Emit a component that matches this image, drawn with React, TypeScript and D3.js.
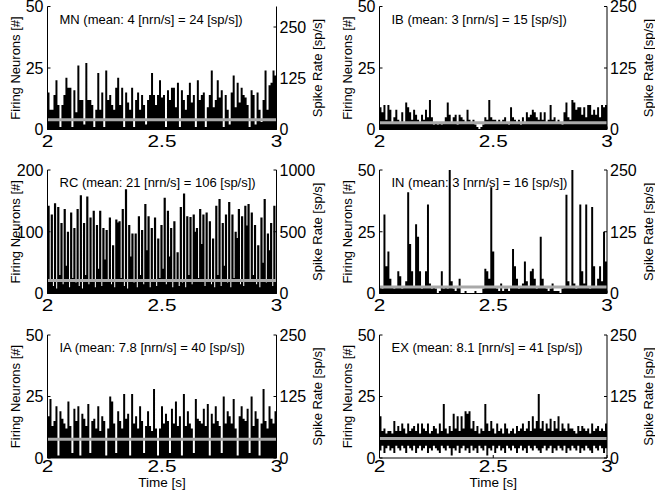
import React from 'react';
import * as d3 from 'd3';

const W = 655;
const H = 496;

// firing neuron counts per time column (2 s .. 3 s)
const mnCounts = [
  15, 8, 8, 14, 20, 10, 1, 10, 14, 21, 17, 17, 1, 16, 7, 26, 12, 12, 2, 27,
  12, 12, 10, 1, 8, 23, 8, 15, 1, 24, 12, 14, 10, 8, 17, 21, 10, 17, 1, 15,
  11, 8, 17, 1, 12, 15, 8, 14, 10, 2, 12, 14, 23, 14, 10, 14, 20, 13, 14, 1,
  16, 12, 17, 17, 9, 19, 1, 16, 12, 8, 14, 19, 11, 14, 1, 20, 12, 14, 15, 1,
  9, 14, 24, 9, 12, 20, 13, 16, 1, 14, 8, 2, 15, 22, 9, 19, 11, 17, 14, 13,
  10, 1, 16, 14, 2, 15, 8, 3, 12, 24, 8, 18, 19, 24, 22,
];

const ibCounts = [
  9, 7, 10, 4, 10, 8, 3, 5, 8, 4, 3, 7, 3, 11, 9, 7, 4, 8, 6, 4,
  3, 6, 4, 8, 5, 12, 5, 2, 3, 2, 3, 2, 3, 5, 11, 6, 3, 5, 6, 2,
  6, 5, 4, 3, 8, 4, 3, 4, 2, 1, 0, 1, 2, 5, 4, 12, 5, 4, 4, 3,
  4, 3, 4, 5, 3, 2, 9, 5, 4, 3, 4, 2, 5, 3, 7, 5, 6, 8, 7, 5,
  4, 7, 4, 7, 3, 4, 10, 4, 5, 3, 4, 3, 2, 7, 11, 5, 4, 12, 11, 8,
  9, 9, 6, 9, 5, 10, 10, 6, 8, 6, 9, 5, 10, 9, 10,
];

const rcPeaks = [
  142, 128, 146, 140, 114, 137, 100, 131, 106, 137, 159, 114, 157, 123, 134, 111, 134, 106, 103, 123,
  78, 120, 117, 137, 169, 111, 97, 97, 125, 103, 145, 125, 106, 123, 89, 111, 155, 134, 106, 117,
  67, 140, 162, 125, 124, 128, 106, 137, 128, 131, 117, 89, 142, 153, 114, 128, 148, 128, 100, 137,
  125, 142, 145, 131, 111, 78, 123, 153, 97, 114, 142,
];
const rcTroughs = [
  20, 12, 8, 30, 15, 45, 10, 25, 18, 12, 8, 30, 15, 22, 10, 40, 12, 55, 20, 15,
  10, 115, 25, 12, 8, 60, 18, 10, 30, 15, 70, 10, 20, 12, 25, 40, 15, 60, 10, 22,
  12, 18, 10, 30, 15, 100, 25, 80, 12, 20, 15, 10, 30, 12, 45, 18, 10, 25, 90, 15,
  12, 110, 20, 30, 15, 10, 50, 18, 70, 12, 20,
];

const inCounts = [
  3, 2, 32, 11, 17, 6, 3, 2, 3, 9, 7, 2, 3, 5, 41, 20, 9, 3, 28, 23,
  9, 2, 3, 9, 36, 4, 2, 3, 2, 0, 1, 9, 2, 3, 2, 52, 5, 2, 1, 3,
  6, 0, 0, 1, 0, 0, 0, 0, 1, 0, 0, 0, 2, 10, 9, 6, 43, 17, 3, 2,
  1, 4, 1, 2, 2, 1, 3, 18, 11, 6, 2, 3, 4, 13, 5, 3, 9, 10, 6, 2,
  3, 23, 6, 3, 2, 1, 2, 4, 1, 1, 1, 0, 2, 3, 40, 5, 3, 52, 4, 2,
  3, 36, 9, 4, 36, 3, 2, 35, 11, 3, 6, 11, 5, 25, 13,
];

const iaCounts = [
  17, 24, 13, 15, 21, 1, 19, 16, 14, 12, 23, 13, 2, 20, 15, 21, 1, 18, 16, 13,
  22, 2, 15, 16, 12, 21, 11, 17, 15, 1, 12, 25, 23, 14, 2, 19, 15, 12, 26, 16,
  18, 1, 26, 14, 17, 12, 21, 15, 2, 13, 19, 13, 11, 28, 12, 1, 12, 21, 14, 18,
  15, 2, 20, 14, 23, 13, 17, 1, 26, 13, 19, 14, 12, 2, 24, 16, 15, 14, 20, 13,
  22, 1, 18, 14, 21, 15, 13, 2, 25, 14, 19, 17, 14, 24, 12, 1, 17, 21, 16, 15,
  20, 2, 25, 13, 19, 16, 1, 14, 28, 15, 12, 21, 16, 14, 19,
];

const exHigh = [
  17, 11, 12, 10, 11, 11, 10, 15, 11, 13, 11, 14, 12, 10, 14, 11, 12, 13, 11, 14,
  10, 14, 12, 11, 14, 10, 11, 13, 12, 10, 14, 11, 22, 12, 10, 13, 11, 18, 12, 17,
  11, 17, 12, 19, 18, 19, 12, 15, 11, 13, 10, 12, 11, 22, 14, 11, 15, 12, 10, 14,
  11, 12, 10, 14, 12, 10, 11, 12, 10, 13, 11, 12, 14, 11, 12, 15, 11, 17, 12, 15,
  26, 12, 15, 11, 14, 12, 16, 11, 15, 12, 17, 11, 14, 12, 11, 14, 12, 12, 11, 10,
  13, 11, 13, 12, 11, 12, 10, 14, 11, 12, 13, 11, 12, 11, 14,
];
const exLow = [
  3, 5, 2, 4, 5, 3, 4, 2, 5, 4, 3, 5, 4, 2, 5, 4, 3, 5, 2, 4,
  5, 3, 4, 5, 2, 4, 3, 5, 4, 3, 2, 5, 4, 3, 5, 4, 1, 4, 3, 5,
  2, 4, 5, 3, 4, 2, 5, 3, 4, 2, 5, 4, 3, 5, 1, 4, 3, 5, 2, 4,
  5, 3, 4, 2, 5, 4, 3, 5, 4, 2, 4, 5, 3, 4, 2, 5, 4, 3, 5, 4,
  3, 2, 4, 5, 3, 4, 5, 2, 4, 3, 5, 4, 3, 5, 2, 4, 3, 5, 4, 3,
  5, 2, 4, 3, 5, 4, 3, 2, 5, 4, 3, 5, 4, 2, 4,
];

const names = ['MN', 'IB', 'RC', 'IN', 'IA', 'EX'];
const meanNrn = ['4', '3', '21', '3', '7.8', '8.1'];
const meanSp = ['24', '15', '106', '16', '40', '41'];
const meanLine = [4, 2.7, 21, 2.6, 7.6, 7.9];
const countMax = [50, 50, 200, 50, 50, 50];
const rateMax = [300, 250, 1000, 250, 250, 250];
const countTicks = [[0, 25, 50], [0, 25, 50], [0, 100, 200], [0, 25, 50], [0, 25, 50], [0, 25, 50]];
const rateTicks = [[0, 125, 250], [0, 125, 250], [0, 500, 1000], [0, 125, 250], [0, 125, 250], [0, 125, 250]];
const timeTicks = [2, 2.5, 3];
const timeLabels = ['2', '2.5', '3'];

type Pt = { t: number; lo: number; hi: number };

function simple(counts: number[]): Pt[] {
  return counts.map((v, i) => ({ t: 2 + i / counts.length, lo: 0, hi: v }));
}

const series: Pt[][] = [
  simple(mnCounts),
  simple(ibCounts),
  rcPeaks.flatMap((p, k) => [
    { t: 2 + k / rcPeaks.length, lo: 0, hi: p },
    { t: 2 + (k + 0.68) / rcPeaks.length, lo: 0, hi: rcTroughs[k] },
  ]),
  simple(inCounts),
  simple(iaCounts),
  exHigh.map((v, i) => ({ t: 2 + i / exHigh.length, lo: exLow[i], hi: v })),
];

const cols = [
  { x0: 47.5, x1: 276.5 },
  { x0: 379.5, x1: 607 },
];
const rows = [
  { top: 6.5, bottom: 129.5, tickGap: 17.5 },
  { top: 170, bottom: 293.5, tickGap: 17.5 },
  { top: 335, bottom: 458, tickGap: 14 },
];

const FONT = "'Liberation Sans', Arial, Helvetica, sans-serif";

function Panel({ idx }: { idx: number }) {
  const { x0, x1 } = cols[idx % 2];
  const { top, bottom, tickGap } = rows[Math.floor(idx / 2)];
  const x = d3.scaleLinear().domain([2, 3]).range([x0, x1]);
  const y = d3.scaleLinear().domain([0, countMax[idx]]).range([bottom, top]).clamp(true);
  const yr = d3.scaleLinear().domain([0, rateMax[idx]]).range([bottom, top]);

  const pts = series[idx];
  const last = pts[pts.length - 1];
  const data = [...pts, { t: 3, lo: last.lo, hi: last.hi }];
  const area = d3
    .area<Pt>()
    .x((d) => x(d.t))
    .y0((d) => y(d.lo))
    .y1((d) => y(d.hi))
    .curve(d3.curveStepAfter);

  const isBottom = idx >= 4;
  const midY = (top + bottom) / 2;
  const title = `${names[idx]} (mean: ${meanNrn[idx]} [nrn/s] = ${meanSp[idx]} [sp/s])`;

  return (
    <g>
      <path d={area(data) || ''} fill="#000" />
      <line x1={x0} x2={x1} y1={y(meanLine[idx])} y2={y(meanLine[idx])} stroke="#a9a9a9" strokeWidth={3} />

      {/* axes */}
      <line x1={x0} x2={x0} y1={top} y2={bottom} stroke="#000" strokeWidth={1} />
      <line x1={x1} x2={x1} y1={top} y2={bottom} stroke="#000" strokeWidth={1} />
      <line x1={x0} x2={x1} y1={bottom} y2={bottom} stroke="#000" strokeWidth={1} />

      {countTicks[idx].map((v) => (
        <g key={'c' + v}>
          <line x1={x0} x2={x0 + 3} y1={y(v)} y2={y(v)} stroke="#000" />
          <text x={x0 - 4} y={y(v)} dy="0.36em" textAnchor="end" fontSize={16} fontFamily={FONT}>
            {v}
          </text>
        </g>
      ))}
      {rateTicks[idx].map((v) => (
        <g key={'r' + v}>
          <line x1={x1 - 3} x2={x1} y1={yr(v)} y2={yr(v)} stroke="#000" />
          <text x={x1 + 3} y={yr(v)} dy="0.36em" textAnchor="start" fontSize={16} fontFamily={FONT}>
            {v}
          </text>
        </g>
      ))}
      {timeTicks.map((t, i) => (
        <g key={'t' + t}>
          <line x1={x(t)} x2={x(t)} y1={bottom} y2={bottom - 3} stroke="#000" />
          <text
            transform={`translate(${x(t)},${bottom + tickGap}) scale(1.3,1)`}
            textAnchor="middle"
            fontSize={16}
            fontFamily={FONT}
          >
            {timeLabels[i]}
          </text>
        </g>
      ))}

      <text x={x0 + 12} y={top + 17} fontSize={13} fontFamily={FONT}>
        {title}
      </text>

      <text
        transform={`translate(${x0 - 28},${midY}) rotate(-90)`}
        textAnchor="middle"
        fontSize={13}
        fontFamily={FONT}
      >
        Firing Neurons [#]
      </text>
      <text
        transform={`translate(${x1 + 45.5},${midY}) rotate(-90)`}
        textAnchor="middle"
        fontSize={13}
        fontFamily={FONT}
      >
        Spike Rate [sp/s]
      </text>
      {isBottom && (
        <text x={(x0 + x1) / 2} y={bottom + 28.5} textAnchor="middle" fontSize={13.5} fontFamily={FONT}>
          Time [s]
        </text>
      )}
    </g>
  );
}

export default function App() {
  return (
    <svg
      width={W}
      height={H}
      style={{ position: 'absolute', left: 0, top: 0, background: '#fff' }}
    >
      {names.map((n, i) => (
        <Panel key={n} idx={i} />
      ))}
    </svg>
  );
}
